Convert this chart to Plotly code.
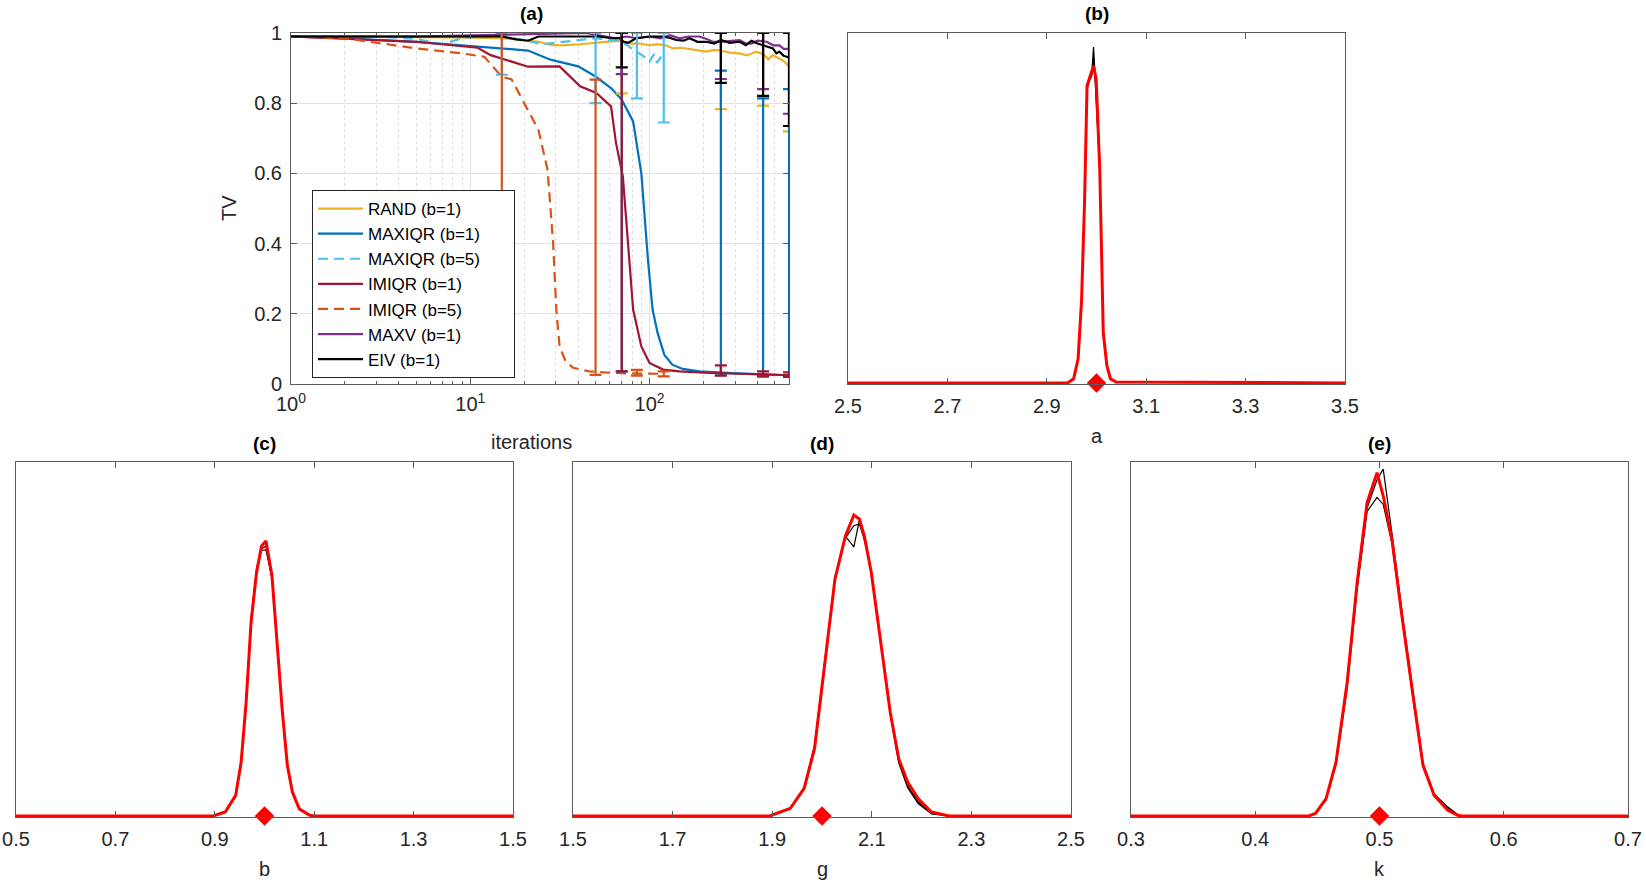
import plotly.graph_objects as go

W, H = 1646, 886

# ---------------- panel (a) data ----------------
series_names = ["RAND (b=1)", "MAXIQR (b=1)", "MAXIQR (b=5)", "IMIQR (b=1)",
                "IMIQR (b=5)", "MAXV (b=1)", "EIV (b=1)"]
series_colors = ["#EDB120", "#0072BD", "#4DBEEE", "#A2142F", "#D95319", "#7E2F8E", "#000000"]
series_dash = ["solid", "solid", "10px,6px", "solid", "10px,6px", "solid", "solid"]

rand_it = [1, 2, 5, 10, 15, 20, 24, 28, 32, 41, 50, 57, 68, 78, 88, 100, 110, 123, 135, 150,
           167, 185, 207, 230, 250, 280, 318, 350, 394, 430, 460, 488, 530, 560, 600]
rand_tv = [0.99, 0.99, 0.988, 0.987, 0.985, 0.98, 0.975, 0.966, 0.965, 0.968, 0.972, 0.975, 0.978,
           0.97, 0.97, 0.965, 0.968, 0.965, 0.956, 0.958, 0.955, 0.95, 0.947, 0.952, 0.95, 0.944,
           0.942, 0.936, 0.947, 0.94, 0.925, 0.937, 0.928, 0.92, 0.905]

maxiqr1_it = [1, 2, 5, 10, 21, 28, 40, 50, 61, 70, 81, 90, 98, 104, 111, 121, 134, 153, 190,
              290, 430, 600]
maxiqr1_tv = [0.99, 0.985, 0.975, 0.962, 0.95, 0.924, 0.905, 0.876, 0.843, 0.81, 0.748, 0.60,
              0.354, 0.212, 0.145, 0.083, 0.055, 0.043, 0.036, 0.031, 0.027, 0.025]

maxiqr5_it = [1, 3, 5, 7, 9, 11, 15, 20, 25, 30, 40, 50, 60, 70, 80, 88, 95, 100, 106, 110, 115, 120]
maxiqr5_tv = [0.99, 0.99, 0.983, 0.968, 0.985, 0.99, 0.99, 0.98, 0.968, 0.972, 0.98, 0.985, 0.98,
              0.975, 0.955, 0.94, 0.93, 0.918, 0.94, 0.915, 0.93, 0.92]

imiqr1_it = [1, 5, 11, 13, 21, 31.5, 41, 50.5, 61, 65, 71, 75.5, 81, 90, 100, 119, 147, 200,
             250, 430, 600]
imiqr1_tv = [0.99, 0.975, 0.958, 0.937, 0.904, 0.905, 0.848, 0.829, 0.791, 0.687, 0.591, 0.402,
             0.212, 0.107, 0.06, 0.041, 0.036, 0.032, 0.03, 0.027, 0.025]

imiqr5_it = [1, 2, 5, 9, 12, 15, 17, 20.5, 24, 27, 29, 30.2, 31.5, 34, 37.5, 46, 60, 80, 100, 120]
imiqr5_tv = [0.99, 0.985, 0.956, 0.942, 0.932, 0.875, 0.868, 0.79, 0.724, 0.61, 0.40, 0.212,
             0.107, 0.065, 0.046, 0.036, 0.032, 0.03, 0.03, 0.029]

maxv_it = [1, 5, 10, 15, 20, 25, 32, 44, 57, 65, 74, 85, 100, 115, 130, 147, 165, 190, 210, 225,
           250, 280, 318, 345, 370, 400, 450, 490, 530, 560, 600]
maxv_tv = [0.99, 0.99, 0.993, 0.995, 0.997, 0.998, 1.0, 1.0, 0.99, 0.985, 0.99, 0.985, 0.99,
           0.985, 0.994, 0.985, 0.99, 0.99, 0.982, 0.975, 0.975, 0.978, 0.98, 0.97, 0.97, 0.978,
           0.975, 0.965, 0.965, 0.955, 0.955]

eiv_it = [1, 5, 11, 15, 18, 21, 24, 30, 41, 52, 62, 68, 72, 76, 84, 100, 117, 130, 141, 155, 167,
          185, 207, 230, 250, 280, 318, 345, 370, 400, 430, 460, 488, 510, 530, 560, 600]
eiv_tv = [0.99, 0.99, 0.992, 0.99, 0.982, 0.978, 0.99, 0.99, 0.99, 0.99, 0.985, 0.985, 0.975,
          0.972, 0.985, 0.99, 0.99, 0.986, 0.98, 0.978, 0.985, 0.975, 0.975, 0.97, 0.98, 0.972,
          0.975, 0.965, 0.978, 0.97, 0.965, 0.96, 0.956, 0.942, 0.947, 0.935, 0.93]

# error bars (iterations where shown, mean, lower, upper)
eb_it_b1 = [70, 250, 430, 600]
eb_it_b5 = [15, 50, 85, 120]
rand_eb = ([0.98, 0.95, 0.945, 0.905], [0.828, 0.783, 0.793, 0.72], [1.0, 1.0, 1.0, 1.0])
maxiqr1_eb = ([0.81, 0.031, 0.027, 0.025], [0.036, 0.025, 0.022, 0.02], [1.0, 0.893, 0.814, 0.84])
maxiqr5_eb = ([0.99, 0.985, 0.945, 0.92], [0.881, 0.80, 0.814, 0.745], [1.0, 1.0, 1.0, 1.0])
imiqr1_eb = ([0.6, 0.03, 0.027, 0.025], [0.036, 0.024, 0.022, 0.02], [1.0, 0.053, 0.036, 0.033])
imiqr5_eb = ([0.875, 0.032, 0.03, 0.029], [0.4, 0.026, 0.024, 0.022], [1.0, 0.867, 0.04, 0.036])
maxv_eb = ([0.99, 0.975, 0.97, 0.955], [0.883, 0.869, 0.84, 0.77], [1.0, 1.0, 1.0, 1.0])
eiv_eb = ([0.98, 0.98, 0.965, 0.938], [0.902, 0.858, 0.821, 0.735], [1.0, 1.0, 1.0, 1.0])

curves = [(rand_it, rand_tv, eb_it_b1, rand_eb),
          (maxiqr1_it, maxiqr1_tv, eb_it_b1, maxiqr1_eb),
          (maxiqr5_it, maxiqr5_tv, eb_it_b5, maxiqr5_eb),
          (imiqr1_it, imiqr1_tv, eb_it_b1, imiqr1_eb),
          (imiqr5_it, imiqr5_tv, eb_it_b5, imiqr5_eb),
          (maxv_it, maxv_tv, eb_it_b1, maxv_eb),
          (eiv_it, eiv_tv, eb_it_b1, eiv_eb)]

# ---------------- marginal posterior panels ----------------
a_red_x = [2.5, 2.942, 2.954, 2.963, 2.97, 2.976, 2.981, 2.988, 2.994, 2.9993, 3.0065, 3.0136, 3.0208, 3.028, 3.039, 3.5]
a_red_y = [0, 0, 0.012, 0.069, 0.238, 0.52, 0.85, 0.882, 0.906, 0.868, 0.614, 0.144, 0.05, 0.012, 0.003, 0]
a_blk1_x = [2.5, 2.942, 2.954, 2.963, 2.97, 2.976, 2.981, 2.985, 2.991, 2.994, 2.997, 3.0065, 3.0136, 3.0208, 3.028, 3.039, 3.5]
a_blk1_y = [0, 0, 0.012, 0.07, 0.24, 0.52, 0.85, 0.864, 0.897, 0.96, 0.887, 0.62, 0.15, 0.05, 0.012, 0.003, 0]
a_blk2_y = [0, 0, 0.01, 0.066, 0.235, 0.51, 0.84, 0.86, 0.88, 0.93, 0.87, 0.61, 0.14, 0.048, 0.011, 0.002, 0]

b_red_x = [0.5, 0.897, 0.921, 0.942, 0.953, 0.963, 0.973, 0.984, 0.994, 1.003, 1.015, 1.025, 1.036, 1.046, 1.056, 1.07, 1.091, 1.1, 1.5]
b_red_y = [0, 0, 0.011, 0.058, 0.152, 0.32, 0.547, 0.688, 0.763, 0.777, 0.679, 0.49, 0.293, 0.143, 0.068, 0.02, 0.002, 0, 0]
b_blk1_y = [0, 0, 0.01, 0.056, 0.15, 0.33, 0.56, 0.70, 0.755, 0.762, 0.67, 0.48, 0.29, 0.14, 0.066, 0.019, 0.002, 0, 0]
b_blk2_y = [0, 0, 0.012, 0.06, 0.155, 0.325, 0.55, 0.69, 0.75, 0.752, 0.672, 0.485, 0.29, 0.14, 0.067, 0.02, 0.002, 0, 0]

g_red_x = [1.5, 1.895, 1.936, 1.964, 1.985, 2.006, 2.026, 2.047, 2.064, 2.075, 2.085, 2.099, 2.116, 2.137, 2.154, 2.172, 2.193, 2.22, 2.255, 2.5]
g_red_y = [0, 0, 0.021, 0.077, 0.19, 0.434, 0.669, 0.791, 0.85, 0.839, 0.791, 0.688, 0.509, 0.293, 0.162, 0.096, 0.049, 0.011, 0, 0]
g_blk1_y = [0, 0, 0.022, 0.08, 0.2, 0.44, 0.675, 0.79, 0.76, 0.835, 0.785, 0.69, 0.51, 0.29, 0.155, 0.085, 0.04, 0.008, 0, 0]
g_blk2_y = [0, 0, 0.02, 0.078, 0.195, 0.438, 0.672, 0.785, 0.82, 0.825, 0.78, 0.692, 0.505, 0.288, 0.15, 0.08, 0.035, 0.006, 0, 0]

k_red_x = [0.3, 0.443, 0.4485, 0.457, 0.465, 0.474, 0.482, 0.49, 0.498, 0.503, 0.51, 0.518, 0.527, 0.535, 0.544, 0.555, 0.563, 0.566, 0.7]
k_red_y = [0, 0, 0.007, 0.049, 0.152, 0.378, 0.66, 0.885, 0.97, 0.904, 0.782, 0.566, 0.34, 0.143, 0.058, 0.016, 0.002, 0, 0]
k_blk1_y = [0, 0, 0.008, 0.05, 0.15, 0.37, 0.65, 0.87, 0.95, 0.98, 0.8, 0.58, 0.35, 0.15, 0.062, 0.025, 0.004, 0, 0]
k_blk2_y = [0, 0, 0.006, 0.045, 0.145, 0.36, 0.64, 0.86, 0.9, 0.88, 0.77, 0.56, 0.33, 0.14, 0.06, 0.022, 0.003, 0, 0]

true_values = [3.0, 1.0, 2.0, 0.5]
param_labels = ["a", "b", "g", "k"]
param_ticks = [[2.5, 2.7, 2.9, 3.1, 3.3, 3.5], [0.5, 0.7, 0.9, 1.1, 1.3, 1.5],
               [1.5, 1.7, 1.9, 2.1, 2.3, 2.5], [0.3, 0.4, 0.5, 0.6, 0.7]]
param_ticktext = [["2.5", "2.7", "2.9", "3.1", "3.3", "3.5"], ["0.5", "0.7", "0.9", "1.1", "1.3", "1.5"],
                  ["1.5", "1.7", "1.9", "2.1", "2.3", "2.5"], ["0.3", "0.4", "0.5", "0.6", "0.7"]]
dens = [(a_red_x, a_red_y, [a_blk1_y, a_blk2_y], a_blk1_x),
        (b_red_x, b_red_y, [b_blk1_y, b_blk2_y], b_red_x),
        (g_red_x, g_red_y, [g_blk1_y, g_blk2_y], g_red_x),
        (k_red_x, k_red_y, [k_blk1_y, k_blk2_y], k_red_x)]

# ---------------- layout geometry (pixels) ----------------
boxes = {"a": (291, 789, 33, 384), "b": (848, 1345, 33, 384),
         "c": (16, 513, 462, 817), "d": (573, 1071, 462, 817), "e": (1131, 1628, 462, 817)}

def xd(b):
    return [b[0] / W, b[1] / W]

def yd(b):
    return [1 - b[3] / H, 1 - b[2] / H]

FONT = "Liberation Sans, Arial, sans-serif"
TXT = "#262626"
FRAME = "#5a5a5a"
PAD = "\u00a0" * 6
fig = go.Figure()

# panel (a) curves
for (it, tv, ebx, eb), name, col, dash in zip(curves, series_names, series_colors, series_dash):
    fig.add_trace(go.Scatter(x=it, y=tv, mode="lines", name=name + PAD,
                             line=dict(color=col, width=2.2, dash=dash),
                             xaxis="x", yaxis="y", legendgroup=name))
for (it, tv, ebx, eb), name, col in zip(curves, series_names, series_colors):
    mean, lo, hi = eb
    fig.add_trace(go.Scatter(x=ebx, y=mean, mode="markers", showlegend=False,
                             marker=dict(size=1, color="rgba(0,0,0,0)"),
                             error_y=dict(type="data", symmetric=False,
                                          array=[h - m for h, m in zip(hi, mean)],
                                          arrayminus=[m - l for m, l in zip(mean, lo)],
                                          color=col, thickness=2.2, width=6),
                             xaxis="x", yaxis="y", legendgroup=name, cliponaxis=False))

# density panels
panel_keys = ["b", "c", "d", "e"]
for i, ((rx, ry, blks, bx), tv, lab) in enumerate(zip(dens, true_values, param_labels)):
    ax = str(i + 2)
    for by in blks:
        fig.add_trace(go.Scatter(x=bx, y=by, mode="lines", showlegend=False,
                                 line=dict(color="black", width=1.2),
                                 xaxis="x" + ax, yaxis="y" + ax))
    fig.add_trace(go.Scatter(x=rx, y=ry, mode="lines", showlegend=False,
                             line=dict(color="#FF0000", width=3),
                             xaxis="x" + ax, yaxis="y" + ax))
    fig.add_trace(go.Scatter(x=[tv], y=[0], mode="markers", showlegend=False,
                             marker=dict(symbol="diamond", size=15, color="#FF0000"),
                             cliponaxis=False, xaxis="x" + ax, yaxis="y" + ax))

axis_common = dict(showline=True, linecolor=FRAME, linewidth=1, mirror="ticks",
                   ticks="inside", tickcolor=FRAME, ticklen=6, automargin=False,
                   tickfont=dict(family=FONT, size=20, color=TXT), zeroline=False)

minor_vals = [m * 10 ** e for e in range(0, 3) for m in range(2, 10) if m * 10 ** e < 600]
layout = dict(
    width=W, height=H, margin=dict(l=0, r=0, t=0, b=0, pad=0, autoexpand=False),
    paper_bgcolor="white", plot_bgcolor="white", showlegend=True,
    font=dict(family=FONT, color=TXT, size=18),
    xaxis=dict(axis_common, type="log", domain=xd(boxes["a"]), anchor="y",
               range=[0, 2.778], tickvals=[1, 10, 100],
               ticktext=["10<sup>0</sup>", "10<sup>1</sup>", "10<sup>2</sup>"],
               ticklabelstandoff=2,
               showgrid=True, gridcolor="#e3e3e3", gridwidth=1,
               minor=dict(tickvals=minor_vals, ticks="inside", ticklen=3, tickcolor=FRAME,
                          showgrid=True, gridcolor="#dcdcdc", griddash="dot", gridwidth=1)),
    yaxis=dict(axis_common, domain=yd(boxes["a"]), anchor="x", range=[0, 1],
               tickvals=[0, 0.2, 0.4, 0.6, 0.8, 1], ticktext=["0", "0.2", "0.4", "0.6", "0.8", "1"],
               ticklabelstandoff=4,
               showgrid=True, gridcolor="#e3e3e3", gridwidth=1),
    legend=dict(x=312 / W, y=1 - 190 / H, xanchor="left", yanchor="top",
                bgcolor="white", bordercolor="#262626", borderwidth=1,
                font=dict(family=FONT, size=17, color="black"), itemwidth=45,
                tracegroupgap=0),
)
for i, key in enumerate(panel_keys):
    ax = str(i + 2)
    b = boxes[key]
    lo, hi = param_ticks[i][0], param_ticks[i][-1]
    layout["xaxis" + ax] = dict(axis_common, domain=xd(b), anchor="y" + ax, range=[lo, hi],
                                tickvals=param_ticks[i], ticktext=param_ticktext[i],
                                ticklabelstandoff=4, showgrid=False)
    layout["yaxis" + ax] = dict(showline=True, linecolor=FRAME, linewidth=1, mirror=True,
                                ticks="", showticklabels=False, showgrid=False, zeroline=False,
                                automargin=False,
                                domain=yd(b), anchor="x" + ax, range=[-0.003, 1.0])

ann = []
def add_text(txt, px, py, size=20, bold=False, angle=0):
    ann.append(dict(text=("<b>%s</b>" % txt) if bold else txt, x=px / W, y=1 - py / H,
                    xref="paper", yref="paper", showarrow=False, xanchor="center",
                    yanchor="middle", textangle=angle,
                    font=dict(family=FONT, size=size, color="black" if bold else TXT)))

titles = ["(a)", "(b)", "(c)", "(d)", "(e)"]
title_x = [531, 1096.5, 264.5, 822, 1379.5]
for t, key, tx in zip(titles, ["a", "b", "c", "d", "e"], title_x):
    b = boxes[key]
    add_text(t, tx, b[2] - 19, size=19, bold=True)
add_text("iterations", 531, 442)
add_text("TV", 229, 208, angle=-90)
for lab, key in zip(param_labels, panel_keys):
    b = boxes[key]
    add_text(lab, (b[0] + b[1]) / 2, b[3] + 52)
layout["annotations"] = ann

fig.update_layout(**layout)
fig.write_html("out.html")
